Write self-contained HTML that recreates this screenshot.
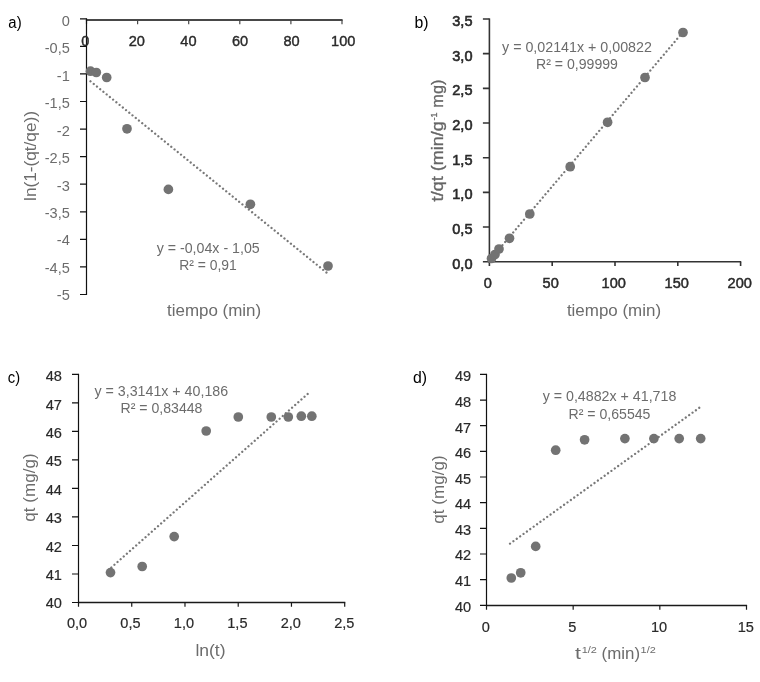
<!DOCTYPE html>
<html lang="es">
<head>
<meta charset="utf-8">
<title>Figura</title>
<style>
html,body{margin:0;padding:0;background:#fff;}
body{width:760px;height:682px;overflow:hidden;}
svg{display:block;}
text{font-family:'Liberation Sans', sans-serif;}
</style>
</head>
<body>
<svg width="760" height="682" viewBox="0 0 760 682">
<rect width="760" height="682" fill="#fff"/>
<g fill="none">
<path d="M85.90 20H342.60" stroke="#484848" stroke-width="1.9"/>
<path d="M86.50 20V24.20M137.60 20V24.20M188.70 20V24.20M239.80 20V24.20M290.90 20V24.20M342.00 20V24.20" stroke="#484848" stroke-width="1.2"/>
<path d="M86.5 18.20V295.10" stroke="#111" stroke-width="1.2"/>
<path d="M80.00 18.80H86.5M80.00 46.37H86.5M80.00 73.94H86.5M80.00 101.51H86.5M80.00 129.08H86.5M80.00 156.65H86.5M80.00 184.22H86.5M80.00 211.79H86.5M80.00 239.36H86.5M80.00 266.93H86.5M80.00 294.50H86.5" stroke="#111" stroke-width="1.2"/>
</g>
<text x="61.69" y="25.70" font-size="14.72" fill="#6c6c6c" textLength="8.11" lengthAdjust="spacingAndGlyphs">0</text>
<text x="44.69" y="53.17" font-size="14.72" fill="#6c6c6c" textLength="25.11" lengthAdjust="spacingAndGlyphs">-0,5</text>
<text x="56.79" y="80.64" font-size="14.72" fill="#6c6c6c" textLength="13.01" lengthAdjust="spacingAndGlyphs">-1</text>
<text x="44.69" y="108.11" font-size="14.72" fill="#6c6c6c" textLength="25.11" lengthAdjust="spacingAndGlyphs">-1,5</text>
<text x="56.79" y="135.58" font-size="14.72" fill="#6c6c6c" textLength="13.01" lengthAdjust="spacingAndGlyphs">-2</text>
<text x="44.69" y="163.05" font-size="14.72" fill="#6c6c6c" textLength="25.11" lengthAdjust="spacingAndGlyphs">-2,5</text>
<text x="56.79" y="190.52" font-size="14.72" fill="#6c6c6c" textLength="13.01" lengthAdjust="spacingAndGlyphs">-3</text>
<text x="44.69" y="217.99" font-size="14.72" fill="#6c6c6c" textLength="25.11" lengthAdjust="spacingAndGlyphs">-3,5</text>
<text x="56.79" y="245.46" font-size="14.72" fill="#6c6c6c" textLength="13.01" lengthAdjust="spacingAndGlyphs">-4</text>
<text x="44.69" y="272.93" font-size="14.72" fill="#6c6c6c" textLength="25.11" lengthAdjust="spacingAndGlyphs">-4,5</text>
<text x="56.79" y="300.40" font-size="14.72" fill="#6c6c6c" textLength="13.01" lengthAdjust="spacingAndGlyphs">-5</text>
<text x="81.15" y="46.20" font-size="14.72" fill="#2a2a2a" stroke="#2a2a2a" stroke-width="0.4" textLength="8.11" lengthAdjust="spacingAndGlyphs">0</text>
<text x="128.69" y="46.20" font-size="14.72" fill="#2a2a2a" stroke="#2a2a2a" stroke-width="0.4" textLength="16.22" lengthAdjust="spacingAndGlyphs">20</text>
<text x="180.29" y="46.20" font-size="14.72" fill="#2a2a2a" stroke="#2a2a2a" stroke-width="0.4" textLength="16.22" lengthAdjust="spacingAndGlyphs">40</text>
<text x="231.89" y="46.20" font-size="14.72" fill="#2a2a2a" stroke="#2a2a2a" stroke-width="0.4" textLength="16.22" lengthAdjust="spacingAndGlyphs">60</text>
<text x="283.49" y="46.20" font-size="14.72" fill="#2a2a2a" stroke="#2a2a2a" stroke-width="0.4" textLength="16.22" lengthAdjust="spacingAndGlyphs">80</text>
<text x="331.04" y="46.20" font-size="14.72" fill="#2a2a2a" stroke="#2a2a2a" stroke-width="0.4" textLength="24.33" lengthAdjust="spacingAndGlyphs">100</text>
<path d="M90.5 81.3L327.3 273.2" stroke="#787878" stroke-width="2.3" stroke-dasharray="0.01 4.15" stroke-linecap="round" fill="none"/>
<g fill="#737373"><circle cx="90.5" cy="71.2" r="4.85"/><circle cx="96.3" cy="72.5" r="4.85"/><circle cx="106.7" cy="77.5" r="4.85"/><circle cx="127" cy="128.8" r="4.85"/><circle cx="168.4" cy="189.4" r="4.85"/><circle cx="250.4" cy="204.3" r="4.85"/><circle cx="328" cy="266" r="4.85"/></g>
<text x="8.35" y="28.00" font-size="15.64" fill="#000" textLength="13.30" lengthAdjust="spacingAndGlyphs">a)</text>
<text x="167.00" y="316.00" font-size="15.75" fill="#6c6c6c" textLength="94.21" lengthAdjust="spacingAndGlyphs">tiempo (min)</text>
<text x="-8.95" y="156.00" font-size="15.75" fill="#6c6c6c" textLength="89.90" lengthAdjust="spacingAndGlyphs" transform="rotate(-90 36.00 156.00)">ln(1-(qt/qe))</text>
<text x="156.68" y="253.10" font-size="14.72" fill="#6c6c6c" textLength="103.05" lengthAdjust="spacingAndGlyphs">y = -0,04x - 1,05</text>
<text x="179.21" y="269.70" font-size="14.72" fill="#6c6c6c" textLength="57.59" lengthAdjust="spacingAndGlyphs">R² = 0,91</text>
<g fill="none">
<path d="M488.80 261.7H741.20" stroke="#333" stroke-width="1.4"/>
<path d="M489.40 261.7V265.90M552.20 261.7V265.90M615.00 261.7V265.90M677.80 261.7V265.90M740.60 261.7V265.90" stroke="#333" stroke-width="1.6"/>
<path d="M489.4 18.40V262.30" stroke="#333" stroke-width="1.6"/>
<path d="M482.90 19.00H489.4M482.90 53.67H489.4M482.90 88.34H489.4M482.90 123.01H489.4M482.90 157.69H489.4M482.90 192.36H489.4M482.90 227.03H489.4M482.90 261.70H489.4" stroke="#333" stroke-width="1.6"/>
</g>
<text x="452.29" y="26.20" font-size="14.72" fill="#2a2a2a" stroke="#2a2a2a" stroke-width="0.6" textLength="20.21" lengthAdjust="spacingAndGlyphs">3,5</text>
<text x="452.29" y="60.83" font-size="14.72" fill="#2a2a2a" stroke="#2a2a2a" stroke-width="0.6" textLength="20.21" lengthAdjust="spacingAndGlyphs">3,0</text>
<text x="452.29" y="95.46" font-size="14.72" fill="#2a2a2a" stroke="#2a2a2a" stroke-width="0.6" textLength="20.21" lengthAdjust="spacingAndGlyphs">2,5</text>
<text x="452.29" y="130.09" font-size="14.72" fill="#2a2a2a" stroke="#2a2a2a" stroke-width="0.6" textLength="20.21" lengthAdjust="spacingAndGlyphs">2,0</text>
<text x="452.29" y="164.71" font-size="14.72" fill="#2a2a2a" stroke="#2a2a2a" stroke-width="0.6" textLength="20.21" lengthAdjust="spacingAndGlyphs">1,5</text>
<text x="452.29" y="199.34" font-size="14.72" fill="#2a2a2a" stroke="#2a2a2a" stroke-width="0.6" textLength="20.21" lengthAdjust="spacingAndGlyphs">1,0</text>
<text x="452.29" y="233.97" font-size="14.72" fill="#2a2a2a" stroke="#2a2a2a" stroke-width="0.6" textLength="20.21" lengthAdjust="spacingAndGlyphs">0,5</text>
<text x="452.29" y="268.60" font-size="14.72" fill="#2a2a2a" stroke="#2a2a2a" stroke-width="0.6" textLength="20.21" lengthAdjust="spacingAndGlyphs">0,0</text>
<text x="483.65" y="287.70" font-size="14.72" fill="#2a2a2a" stroke="#2a2a2a" stroke-width="0.5" textLength="8.11" lengthAdjust="spacingAndGlyphs">0</text>
<text x="542.59" y="287.70" font-size="14.72" fill="#2a2a2a" stroke="#2a2a2a" stroke-width="0.5" textLength="16.22" lengthAdjust="spacingAndGlyphs">50</text>
<text x="601.54" y="287.70" font-size="14.72" fill="#2a2a2a" stroke="#2a2a2a" stroke-width="0.5" textLength="24.33" lengthAdjust="spacingAndGlyphs">100</text>
<text x="664.54" y="287.70" font-size="14.72" fill="#2a2a2a" stroke="#2a2a2a" stroke-width="0.5" textLength="24.33" lengthAdjust="spacingAndGlyphs">150</text>
<text x="727.54" y="287.70" font-size="14.72" fill="#2a2a2a" stroke="#2a2a2a" stroke-width="0.5" textLength="24.33" lengthAdjust="spacingAndGlyphs">200</text>
<path d="M489 261L683 32" stroke="#787878" stroke-width="2.3" stroke-dasharray="0.01 4.15" stroke-linecap="round" fill="none"/>
<g fill="#737373"><circle cx="491.5" cy="258.5" r="4.85"/><circle cx="495" cy="254.5" r="4.85"/><circle cx="499" cy="249" r="4.85"/><circle cx="509.5" cy="238.3" r="4.85"/><circle cx="529.8" cy="214" r="4.85"/><circle cx="570.2" cy="166.7" r="4.85"/><circle cx="607.6" cy="122.3" r="4.85"/><circle cx="645" cy="77.5" r="4.85"/><circle cx="683" cy="32.5" r="4.85"/></g>
<text x="414.46" y="28.00" font-size="15.64" fill="#000" textLength="14.09" lengthAdjust="spacingAndGlyphs">b)</text>
<text x="566.90" y="316.00" font-size="15.75" fill="#6c6c6c" textLength="94.21" lengthAdjust="spacingAndGlyphs">tiempo (min)</text>
<g fill="#666" stroke="#666" stroke-width="0.3" transform="rotate(-90 442.60 140.50)">
<text x="381.73" y="140.50" font-size="15.75" textLength="80.18" lengthAdjust="spacingAndGlyphs">t/qt (min/g</text>
<text x="462.63" y="135.34" font-size="8.82" textLength="8.10" lengthAdjust="spacingAndGlyphs">-1</text>
<text x="475.48" y="140.50" font-size="15.75" textLength="28.00" lengthAdjust="spacingAndGlyphs">mg)</text>
</g>
<text x="502.06" y="52.00" font-size="14.72" fill="#6c6c6c" textLength="149.88" lengthAdjust="spacingAndGlyphs">y = 0,02141x + 0,00822</text>
<text x="536.04" y="69.00" font-size="14.72" fill="#6c6c6c" textLength="81.91" lengthAdjust="spacingAndGlyphs">R² = 0,99999</text>
<g fill="none">
<path d="M77.90 602.5H345.30" stroke="#1a1a1a" stroke-width="1.3"/>
<path d="M78.50 602.5V606.70M131.74 602.5V606.70M184.98 602.5V606.70M238.22 602.5V606.70M291.46 602.5V606.70M344.70 602.5V606.70" stroke="#1a1a1a" stroke-width="1.2"/>
<path d="M78.5 373.80V603.10" stroke="#111" stroke-width="1.2"/>
<path d="M72.00 374.40H78.5M72.00 402.91H78.5M72.00 431.42H78.5M72.00 459.94H78.5M72.00 488.45H78.5M72.00 516.96H78.5M72.00 545.48H78.5M72.00 573.99H78.5M72.00 602.50H78.5" stroke="#111" stroke-width="1.2"/>
</g>
<text x="45.68" y="381.40" font-size="14.72" fill="#2a2a2a" stroke="#2a2a2a" stroke-width="0.2" textLength="16.22" lengthAdjust="spacingAndGlyphs">48</text>
<text x="45.68" y="409.76" font-size="14.72" fill="#2a2a2a" stroke="#2a2a2a" stroke-width="0.2" textLength="16.22" lengthAdjust="spacingAndGlyphs">47</text>
<text x="45.68" y="438.12" font-size="14.72" fill="#2a2a2a" stroke="#2a2a2a" stroke-width="0.2" textLength="16.22" lengthAdjust="spacingAndGlyphs">46</text>
<text x="45.68" y="466.49" font-size="14.72" fill="#2a2a2a" stroke="#2a2a2a" stroke-width="0.2" textLength="16.22" lengthAdjust="spacingAndGlyphs">45</text>
<text x="45.68" y="494.85" font-size="14.72" fill="#2a2a2a" stroke="#2a2a2a" stroke-width="0.2" textLength="16.22" lengthAdjust="spacingAndGlyphs">44</text>
<text x="45.68" y="523.21" font-size="14.72" fill="#2a2a2a" stroke="#2a2a2a" stroke-width="0.2" textLength="16.22" lengthAdjust="spacingAndGlyphs">43</text>
<text x="45.68" y="551.57" font-size="14.72" fill="#2a2a2a" stroke="#2a2a2a" stroke-width="0.2" textLength="16.22" lengthAdjust="spacingAndGlyphs">42</text>
<text x="45.68" y="579.94" font-size="14.72" fill="#2a2a2a" stroke="#2a2a2a" stroke-width="0.2" textLength="16.22" lengthAdjust="spacingAndGlyphs">41</text>
<text x="45.68" y="608.30" font-size="14.72" fill="#2a2a2a" stroke="#2a2a2a" stroke-width="0.2" textLength="16.22" lengthAdjust="spacingAndGlyphs">40</text>
<text x="66.89" y="627.80" font-size="14.72" fill="#2a2a2a" stroke="#2a2a2a" stroke-width="0.2" textLength="20.21" lengthAdjust="spacingAndGlyphs">0,0</text>
<text x="120.35" y="627.80" font-size="14.72" fill="#2a2a2a" stroke="#2a2a2a" stroke-width="0.2" textLength="20.21" lengthAdjust="spacingAndGlyphs">0,5</text>
<text x="173.81" y="627.80" font-size="14.72" fill="#2a2a2a" stroke="#2a2a2a" stroke-width="0.2" textLength="20.21" lengthAdjust="spacingAndGlyphs">1,0</text>
<text x="227.27" y="627.80" font-size="14.72" fill="#2a2a2a" stroke="#2a2a2a" stroke-width="0.2" textLength="20.21" lengthAdjust="spacingAndGlyphs">1,5</text>
<text x="280.73" y="627.80" font-size="14.72" fill="#2a2a2a" stroke="#2a2a2a" stroke-width="0.2" textLength="20.21" lengthAdjust="spacingAndGlyphs">2,0</text>
<text x="334.19" y="627.80" font-size="14.72" fill="#2a2a2a" stroke="#2a2a2a" stroke-width="0.2" textLength="20.21" lengthAdjust="spacingAndGlyphs">2,5</text>
<path d="M111.3 567.5L310 391.9" stroke="#787878" stroke-width="2.3" stroke-dasharray="0.01 4.15" stroke-linecap="round" fill="none"/>
<g fill="#737373"><circle cx="110.5" cy="572.6" r="4.85"/><circle cx="142.2" cy="566.5" r="4.85"/><circle cx="174.2" cy="536.6" r="4.85"/><circle cx="206.2" cy="431" r="4.85"/><circle cx="238.3" cy="417" r="4.85"/><circle cx="271.3" cy="417" r="4.85"/><circle cx="288.3" cy="417" r="4.85"/><circle cx="301.3" cy="416.2" r="4.85"/><circle cx="311.8" cy="416.2" r="4.85"/></g>
<text x="7.83" y="383.00" font-size="15.64" fill="#000" textLength="12.34" lengthAdjust="spacingAndGlyphs">c)</text>
<text x="195.40" y="656.00" font-size="15.75" fill="#6c6c6c" textLength="30.19" lengthAdjust="spacingAndGlyphs">ln(t)</text>
<text x="1.04" y="487.50" font-size="15.75" fill="#6c6c6c" textLength="68.31" lengthAdjust="spacingAndGlyphs" transform="rotate(-90 35.20 487.50)">qt (mg/g)</text>
<text x="94.47" y="395.50" font-size="14.72" fill="#6c6c6c" textLength="133.66" lengthAdjust="spacingAndGlyphs">y = 3,3141x + 40,186</text>
<text x="120.54" y="413.20" font-size="14.72" fill="#6c6c6c" textLength="81.91" lengthAdjust="spacingAndGlyphs">R² = 0,83448</text>
<g fill="none">
<path d="M485.90 605.5H747.10" stroke="#1a1a1a" stroke-width="1.3"/>
<path d="M486.50 605.5V609.70M573.17 605.5V609.70M659.83 605.5V609.70M746.50 605.5V609.70" stroke="#1a1a1a" stroke-width="1.2"/>
<path d="M486.5 373.80V605.90" stroke="#111" stroke-width="1.2"/>
<path d="M480.00 374.40H486.5M480.00 400.06H486.5M480.00 425.71H486.5M480.00 451.37H486.5M480.00 477.02H486.5M480.00 502.68H486.5M480.00 528.33H486.5M480.00 553.99H486.5M480.00 579.64H486.5M480.00 605.30H486.5" stroke="#111" stroke-width="1.2"/>
</g>
<text x="454.98" y="381.40" font-size="14.72" fill="#2a2a2a" stroke="#2a2a2a" stroke-width="0.2" textLength="16.22" lengthAdjust="spacingAndGlyphs">49</text>
<text x="454.98" y="406.97" font-size="14.72" fill="#2a2a2a" stroke="#2a2a2a" stroke-width="0.2" textLength="16.22" lengthAdjust="spacingAndGlyphs">48</text>
<text x="454.98" y="432.53" font-size="14.72" fill="#2a2a2a" stroke="#2a2a2a" stroke-width="0.2" textLength="16.22" lengthAdjust="spacingAndGlyphs">47</text>
<text x="454.98" y="458.10" font-size="14.72" fill="#2a2a2a" stroke="#2a2a2a" stroke-width="0.2" textLength="16.22" lengthAdjust="spacingAndGlyphs">46</text>
<text x="454.98" y="483.67" font-size="14.72" fill="#2a2a2a" stroke="#2a2a2a" stroke-width="0.2" textLength="16.22" lengthAdjust="spacingAndGlyphs">45</text>
<text x="454.98" y="509.23" font-size="14.72" fill="#2a2a2a" stroke="#2a2a2a" stroke-width="0.2" textLength="16.22" lengthAdjust="spacingAndGlyphs">44</text>
<text x="454.98" y="534.80" font-size="14.72" fill="#2a2a2a" stroke="#2a2a2a" stroke-width="0.2" textLength="16.22" lengthAdjust="spacingAndGlyphs">43</text>
<text x="454.98" y="560.37" font-size="14.72" fill="#2a2a2a" stroke="#2a2a2a" stroke-width="0.2" textLength="16.22" lengthAdjust="spacingAndGlyphs">42</text>
<text x="454.98" y="585.93" font-size="14.72" fill="#2a2a2a" stroke="#2a2a2a" stroke-width="0.2" textLength="16.22" lengthAdjust="spacingAndGlyphs">41</text>
<text x="454.98" y="611.50" font-size="14.72" fill="#2a2a2a" stroke="#2a2a2a" stroke-width="0.2" textLength="16.22" lengthAdjust="spacingAndGlyphs">40</text>
<text x="481.70" y="631.50" font-size="14.72" fill="#2a2a2a" stroke="#2a2a2a" stroke-width="0.2" textLength="8.11" lengthAdjust="spacingAndGlyphs">0</text>
<text x="568.36" y="631.50" font-size="14.72" fill="#2a2a2a" stroke="#2a2a2a" stroke-width="0.2" textLength="8.11" lengthAdjust="spacingAndGlyphs">5</text>
<text x="650.97" y="631.50" font-size="14.72" fill="#2a2a2a" stroke="#2a2a2a" stroke-width="0.2" textLength="16.22" lengthAdjust="spacingAndGlyphs">10</text>
<text x="737.64" y="631.50" font-size="14.72" fill="#2a2a2a" stroke="#2a2a2a" stroke-width="0.2" textLength="16.22" lengthAdjust="spacingAndGlyphs">15</text>
<path d="M510 543.6L702.5 405.5" stroke="#787878" stroke-width="2.3" stroke-dasharray="0.01 4.15" stroke-linecap="round" fill="none"/>
<g fill="#737373"><circle cx="511.3" cy="578" r="4.85"/><circle cx="520.7" cy="572.8" r="4.85"/><circle cx="535.7" cy="546.4" r="4.85"/><circle cx="555.7" cy="450.2" r="4.85"/><circle cx="584.6" cy="439.8" r="4.85"/><circle cx="624.9" cy="438.6" r="4.85"/><circle cx="653.9" cy="438.6" r="4.85"/><circle cx="679.2" cy="438.6" r="4.85"/><circle cx="700.7" cy="438.6" r="4.85"/></g>
<text x="412.96" y="383.00" font-size="15.64" fill="#000" textLength="14.09" lengthAdjust="spacingAndGlyphs">d)</text>
<g fill="#6c6c6c">
<text x="575.14" y="659.00" font-size="15.75" textLength="5.96" lengthAdjust="spacingAndGlyphs">t</text>
<text x="581.72" y="653.48" font-size="9.61" textLength="15.20" lengthAdjust="spacingAndGlyphs">1/2</text>
<text x="601.57" y="659.00" font-size="15.75" textLength="38.45" lengthAdjust="spacingAndGlyphs">(min)</text>
<text x="640.64" y="653.48" font-size="9.61" textLength="15.20" lengthAdjust="spacingAndGlyphs">1/2</text>
</g>
<text x="409.44" y="489.50" font-size="15.75" fill="#6c6c6c" textLength="68.31" lengthAdjust="spacingAndGlyphs" transform="rotate(-90 443.60 489.50)">qt (mg/g)</text>
<text x="542.67" y="400.80" font-size="14.72" fill="#6c6c6c" textLength="133.66" lengthAdjust="spacingAndGlyphs">y = 0,4882x + 41,718</text>
<text x="568.54" y="418.60" font-size="14.72" fill="#6c6c6c" textLength="81.91" lengthAdjust="spacingAndGlyphs">R² = 0,65545</text>
</svg>
</body>
</html>
